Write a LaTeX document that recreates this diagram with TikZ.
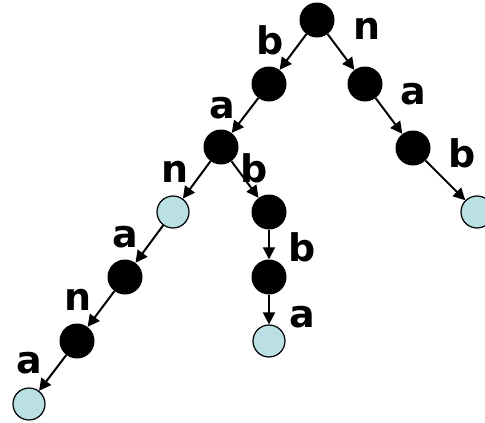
\documentclass[tikz,border=0pt]{standalone}
\usepackage{fontspec}
\setmainfont{DejaVu Sans}
\usepackage{tikz}
\usetikzlibrary{arrows.meta}
\definecolor{leafblue}{RGB}{187,224,227}
\tikzset{state/.style={circle, fill, inner sep=0pt, minimum size=35pt},
         leaf/.style={circle, draw, line width=1.2pt, fill=leafblue, inner sep=0pt, minimum size=32pt},
         lbl/.style={inner sep=0pt, font=\fontsize{38}{42}\selectfont\bfseries},
         trans/.style={-{Triangle[length=12pt,width=12pt]}, line width=2pt}}

\begin{document}
\begin{tikzpicture}[x=1pt, y=-1pt]
        \useasboundingbox (0, 0) rectangle (485, 423);
        \node[state] (r) at (317, 20) {};
        \node[state] (b) at (269, 84) {};
        \node[state] (n) at (365, 84) {};
        \node[state] (ba) at (221, 147) {};
        \node[state] (na) at (413, 148) {};
        \node[leaf] (nab) at (477, 212) {};
        \node[leaf] (ban) at (173, 212) {};
        \node[state] (bab) at (269, 212) {};
        \node[state] (babb) at (269, 277) {};
        \node[leaf] (babba) at (269, 341) {};
        \node[state] (bana) at (125, 277) {};
        \node[state] (banan) at (77, 341) {};
        \node[leaf] (banana) at (29, 404) {};
        
        \node[lbl] (lb) at (270, 40) {b};
        \node[lbl] (ln) at (367, 29) {n};
        \node[lbl] (lba) at (222, 108) {a};
        \node[lbl] (lna) at (413, 94) {a};
        \node[lbl] (lnab) at (462, 153) {b};
        \node[lbl] (lban) at (175, 172) {n};
        \node[lbl] (lbab) at (254, 168) {b};
        \node[lbl] (lbabb) at (302, 247) {b};
        \node[lbl] (lbabba) at (302, 317) {a};
        \node[lbl] (lbana) at (125, 237) {a};
        \node[lbl] (lbanan) at (78, 300) {n};
        \node[lbl] (lbanana) at (29, 363) {a};
        
        \draw (r) edge[trans] (b)
              (r) edge[trans] (n)
              
              (b) edge[trans] (ba)
              (n) edge[trans] (na)
              (na) edge[trans] (nab)
              
              (ba) edge[trans] (ban)
              (ba) edge[trans] (bab)
              
              (bab) edge[trans] (babb)
              (babb) edge[trans] (babba)
              
              (ban) edge[trans] (bana)
              (bana) edge[trans] (banan)
              (banan) edge[trans] (banana);
    \end{tikzpicture}
\end{document}
